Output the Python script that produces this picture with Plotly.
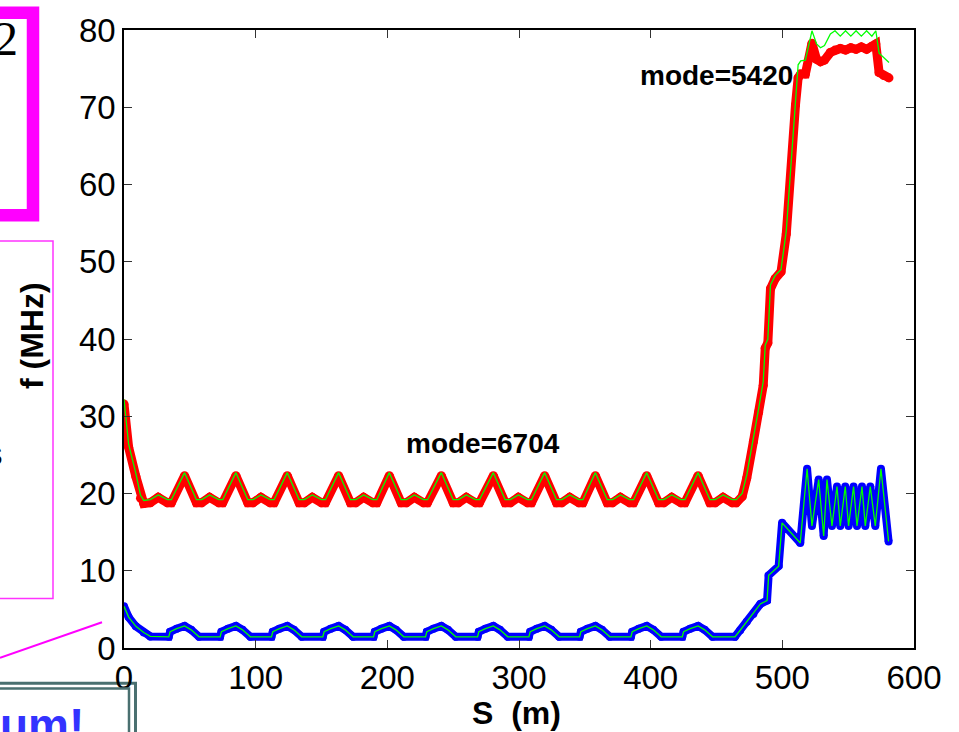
import plotly.graph_objects as go

# ---- mode 6704 (upper branch): position along the line and frequency ----
s_hi = [0, 3.5, 9, 12.5, 15, 20, 26, 33, 36,
        46, 55, 59, 65, 72, 75,
        85, 94, 98, 104, 111, 114,
        124, 133, 137, 143, 150, 153,
        163, 172, 176, 182, 189, 192,
        201.5, 210.5, 214.5, 220.5, 227.5, 230.5,
        241, 250, 254, 260, 267, 270,
        280.5, 289.5, 293.5, 299.5, 306.5, 309.5,
        319.5, 328.5, 332.5, 338.5, 345.5, 348.5,
        358, 367, 371, 377, 384, 387,
        397, 406, 410, 416, 423, 426,
        436, 445, 449, 455, 462, 465,
        469.5, 473, 478, 482, 485.5, 487, 489, 491, 494.5, 499, 503, 510, 512, 514, 517.5,
        522.5, 526, 529, 532, 536.5, 540, 544, 548, 552, 556, 560, 564, 568, 571, 573.5, 577, 581]

f_hi_red = [31.6, 26.0, 22.2, 19.4, 18.7, 18.8, 19.5, 18.8, 18.8,
            22.3, 18.8, 18.8, 19.5, 18.8, 18.8,
            22.3, 18.8, 18.8, 19.5, 18.8, 18.8,
            22.3, 18.8, 18.8, 19.5, 18.8, 18.8,
            22.3, 18.8, 18.8, 19.5, 18.8, 18.8,
            22.3, 18.8, 18.8, 19.5, 18.8, 18.8,
            22.3, 18.8, 18.8, 19.5, 18.8, 18.8,
            22.3, 18.8, 18.8, 19.5, 18.8, 18.8,
            22.3, 18.8, 18.8, 19.5, 18.8, 18.8,
            22.3, 18.8, 18.8, 19.5, 18.8, 18.8,
            22.3, 18.8, 18.8, 19.5, 18.8, 18.8,
            22.3, 18.8, 18.8, 19.5, 18.8, 18.8,
            19.6, 22.0, 26.7, 30.5, 34.0, 38.8, 39.5, 46.5, 47.8, 48.7, 53.6, 70.3, 73.8, 74.3, 74.3,
            78.3, 76.2, 75.9, 76.1, 77.1, 77.4, 77.6, 77.4, 77.7, 77.5, 77.8, 77.5, 77.9, 78.2, 74.5, 74.1, 73.8]

f_hi_green = [32.2, 26.4, 22.6, 19.8, 19.1, 19.2, 19.8, 19.2, 19.2,
              22.7, 19.2, 19.2, 19.8, 19.2, 19.2,
              22.7, 19.2, 19.2, 19.8, 19.2, 19.2,
              22.7, 19.2, 19.2, 19.8, 19.2, 19.2,
              22.7, 19.2, 19.2, 19.8, 19.2, 19.2,
              22.7, 19.2, 19.2, 19.8, 19.2, 19.2,
              22.7, 19.2, 19.2, 19.8, 19.2, 19.2,
              22.7, 19.2, 19.2, 19.8, 19.2, 19.2,
              22.7, 19.2, 19.2, 19.8, 19.2, 19.2,
              22.7, 19.2, 19.2, 19.8, 19.2, 19.2,
              22.7, 19.2, 19.2, 19.8, 19.2, 19.2,
              22.7, 19.2, 19.2, 19.8, 19.2, 19.2,
              20.0, 22.4, 27.0, 31.0, 34.5, 39.2, 40.0, 47.0, 48.2, 49.0, 54.0, 71.0, 75.5, 76.0, 76.1,
              79.9, 78.2, 77.7, 78.0, 79.5, 79.9, 79.2, 79.9, 79.2, 79.9, 79.2, 79.9, 79.2, 79.9, 77.0, 76.4, 75.8]

# ---- lower branch ----
s_lo = [0, 3.5, 9, 15, 20,
        34, 35, 40, 46, 51, 57,
        73, 74, 79, 85, 90, 96,
        112, 113, 118, 124, 129, 135,
        151, 152, 157, 163, 168, 174,
        189.5, 190.5, 195.5, 201.5, 206.5, 212.5,
        229, 230, 235, 241, 246, 252,
        268.5, 269.5, 274.5, 280.5, 285.5, 291.5,
        307.5, 308.5, 313.5, 319.5, 324.5, 330.5,
        346, 347, 352, 358, 363, 369,
        385, 386, 391, 397, 402, 408,
        424, 425, 430, 436, 441, 447,
        464, 468, 473, 478, 483.3, 488.4, 489.6, 497.2, 499.8, 513.6,
        518.8, 522.5, 527.6, 531.4, 533.9, 537.7, 541.5, 544, 547.8, 550.3,
        554.1, 556.7, 560.5, 563, 566.8, 570.6, 574.9, 580.7]

f_lo = [5.4, 4.0, 2.8, 2.0, 1.5,
        1.45, 2.1, 2.5, 2.85, 2.35, 1.45,
        1.45, 2.1, 2.5, 2.85, 2.35, 1.45,
        1.45, 2.1, 2.5, 2.85, 2.35, 1.45,
        1.45, 2.1, 2.5, 2.85, 2.35, 1.45,
        1.45, 2.1, 2.5, 2.85, 2.35, 1.45,
        1.45, 2.1, 2.5, 2.85, 2.35, 1.45,
        1.45, 2.1, 2.5, 2.85, 2.35, 1.45,
        1.45, 2.1, 2.5, 2.85, 2.35, 1.45,
        1.45, 2.1, 2.5, 2.85, 2.35, 1.45,
        1.45, 2.1, 2.5, 2.85, 2.35, 1.45,
        1.45, 2.1, 2.5, 2.85, 2.35, 1.45,
        1.45, 2.3, 3.4, 4.4, 5.7, 6.15, 9.4, 10.6, 16.2, 13.6,
        23.2, 15.8, 21.8, 14.5, 21.8, 15.8, 20.9, 15.8, 20.9, 15.8,
        20.9, 15.8, 20.9, 15.8, 20.9, 15.8, 23.2, 13.8]

mode_labels = ["mode=6704", "mode=5420"]
mode_label_s = [273, 450]
mode_label_f = [26.5, 74.1]

x_ticks = [0, 100, 200, 300, 400, 500, 600]
y_ticks = [0, 10, 20, 30, 40, 50, 60, 70, 80]

FONT = "Liberation Sans, Arial, sans-serif"
RED, BLUE, GREEN = "#ff0000", "#0000ff", "#00ff00"

fig = go.Figure()
# thick traces get a dot at every vertex so the corners come out rounded
fig.add_trace(go.Scatter(x=s_hi, y=f_hi_red, mode="lines+markers",
                         line=dict(color=RED, width=9),
                         marker=dict(color=RED, size=9, line=dict(width=0)),
                         hoverinfo="skip"))
fig.add_trace(go.Scatter(x=s_hi, y=f_hi_green, mode="lines",
                         line=dict(color=GREEN, width=1.3), hoverinfo="skip"))
fig.add_trace(go.Scatter(x=s_lo, y=f_lo, mode="lines+markers",
                         line=dict(color=BLUE, width=8),
                         marker=dict(color=BLUE, size=8, line=dict(width=0)),
                         hoverinfo="skip"))
fig.add_trace(go.Scatter(x=s_lo, y=f_lo, mode="lines",
                         line=dict(color=GREEN, width=1.3), hoverinfo="skip"))

# plot-area pixel frame, used to place the slide decorations around the axes
L, R, T, B = 124, 914, 24, 648


def px(x):
    return (x - L) / (R - L)


def py(y):
    return (B - y) / (B - T)


axis_common = dict(showline=True, linecolor="black", linewidth=1.5, mirror="ticks",
                   ticks="inside", ticklen=8, tickwidth=1, tickcolor="#333333",
                   showgrid=False, zeroline=False,
                   tickfont=dict(family=FONT, size=33, color="black"))

fig.update_layout(
    width=959, height=732,
    margin=dict(l=L, r=959 - R, t=T, b=732 - B, pad=0),
    paper_bgcolor="white", plot_bgcolor="white",
    showlegend=False,
    xaxis=dict(range=[0, 600], tickvals=x_ticks, ticktext=[str(v) for v in x_ticks],
               **axis_common),
    yaxis=dict(range=[0, 80], tickvals=y_ticks, ticktext=[str(v) for v in y_ticks],
               **axis_common),
)

annotations = []
for txt, sx, fy in zip(mode_labels, mode_label_s, mode_label_f):
    annotations.append(dict(x=sx, y=fy, xref="x", yref="y", text=txt, showarrow=False,
                            xanchor="center", yanchor="middle",
                            font=dict(family=FONT, size=28, color="black", weight="bold")))


def paper_text(x, y, text, font, xanchor="center", yanchor="middle", **kw):
    return dict(x=px(x), y=py(y), xref="paper", yref="paper", text=text, showarrow=False,
                xanchor=xanchor, yanchor=yanchor, font=font, **kw)


annotations += [
    paper_text(516, 714, "S  (m)", dict(family=FONT, size=32, color="black", weight="bold")),
    paper_text(32, 333, "f (MHz)", dict(family=FONT, size=32, color="black", weight="bold"),
               textangle=-90),
    paper_text(20, 33, "2", dict(family="Liberation Serif, Times New Roman, serif",
                                 size=48, color="black"), xanchor="right"),
    paper_text(4, 454, "S", dict(family=FONT, size=26, color="black", weight="bold"),
               xanchor="right"),
    paper_text(-2, 726, "um!", dict(family=FONT, size=46, color="#3333ff", weight="bold"),
               xanchor="left"),
]

shapes = [
    # heavy magenta frame, top left
    dict(type="rect", xref="paper", yref="paper", x0=px(-20), x1=px(33), y0=py(6.5), y1=py(211),
         line=dict(color="#ff00ff", width=12.5), fillcolor="rgba(0,0,0,0)"),
    # thin magenta frame round the axis label
    dict(type="rect", xref="paper", yref="paper", x0=px(-5), x1=px(53), y0=py(237), y1=py(598),
         line=dict(color="#ff33ff", width=1.5), fillcolor="rgba(0,0,0,0)"),
    # magenta pointer line
    dict(type="line", xref="paper", yref="paper", x0=px(0), y0=py(658), x1=px(102), y1=py(622),
         line=dict(color="#ff00ff", width=2)),
    # double-ruled callout box, bottom left
    dict(type="rect", xref="paper", yref="paper", x0=px(-5), x1=px(135.5), y0=py(683.5), y1=py(760),
         line=dict(color="#4a7070", width=3), fillcolor="white", layer="below"),
    dict(type="rect", xref="paper", yref="paper", x0=px(-5), x1=px(129), y0=py(689), y1=py(760),
         line=dict(color="#4a7070", width=2.5), fillcolor="rgba(0,0,0,0)"),
]

fig.update_layout(annotations=annotations, shapes=shapes)
fig.write_html("out.html")
